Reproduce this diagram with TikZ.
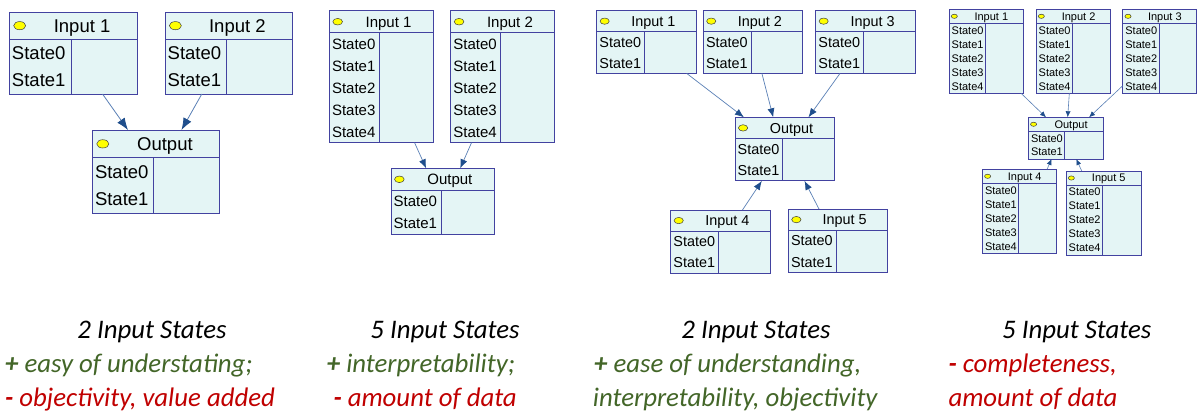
\documentclass[tikz,border=0pt]{standalone}
\usepackage{fontspec}
\setmainfont{Carlito}
\newfontfamily\boxfont{Liberation Sans}
\usetikzlibrary{arrows.meta,calc,shapes.geometric}
\definecolor{boxfill}{HTML}{E4F5F5}
\definecolor{boxborder}{HTML}{4242A0}
\definecolor{arrline}{HTML}{5A80B6}
\definecolor{arrhead}{HTML}{1F4E8C}
\definecolor{dotfill}{HTML}{FFFF00}
\definecolor{goodgreen}{HTML}{436628}
\definecolor{badred}{HTML}{C00000}
\newcommand{\bnfont}[1]{\boxfont\fontsize{#1}{#1}\selectfont}
\newcommand{\bnbox}[9]{%
  \pgfmathsetmacro{\bnTotH}{#5*(#8+1)}%
  \pgfmathsetmacro{\bnTitleY}{#3+#5*0.5+0.358*#9}%
  \pgfmathtruncatemacro{\bnN}{#8-1}%
  \node[bnframe, minimum width=#4pt, minimum height=\bnTotH pt, anchor=north west] (#1) at (#2,#3) {};
  \draw[bnline] (#2,#3+#5) -- (#2+#4,#3+#5);
  \draw[bnline] (#2+#6,#3+#5) -- (#2+#6,#3+\bnTotH);
  \node[bndot, minimum width={0.44*#5}, minimum height={0.3*#5}] (#1-dot) at (#2+0.38*#5,#3+0.5*#5) {};
  \node[anchor=base, inner sep=0pt, font=\bnfont{#9}] (#1-t) at (#2+0.57*#4,\bnTitleY) {#7};
  \foreach \i in {0,...,\bnN}{%
    \pgfmathsetmacro{\bnSY}{#3+#5*(\i+1.5)+0.358*#9}%
    \node[anchor=base west, inner sep=0pt, font=\bnfont{#9}] (#1-s\i) at (#2+2.5,\bnSY) {State\i};
  }%
}
\tikzset{
  bnframe/.style={rectangle, draw=boxborder, fill=boxfill, line width=0.9pt, inner sep=0pt, outer sep=0pt},
  bnline/.style={draw=boxborder, line width=0.8pt},
  bndot/.style={ellipse, draw=black!75, fill=dotfill, line width=0.5pt, inner sep=0pt},
  arrI/.style={draw=arrline, line width=0.8pt, -{Latex[color=arrhead,length=12pt,width=9pt]}},
  arrII/.style={draw=arrline, line width=0.7pt, -{Latex[color=arrhead,length=9pt,width=7pt]}},
  arrIII/.style={draw=arrline, line width=0.7pt, -{Latex[color=arrhead,length=9pt,width=7pt]}},
  arrIV/.style={draw=arrline, line width=0.6pt, -{Latex[color=arrhead,length=6pt,width=5pt]}},
  txt/.style={inner sep=0pt, font=\fontsize{26.8}{30}\selectfont\itshape},
}
\begin{document}
\begin{tikzpicture}[x=1pt,y=-1pt]
\useasboundingbox (0,0) rectangle (1197,416);
\fill[white] (0,0) rectangle (1197,416);
% ---------- Panel 1 ----------
\bnbox{p1i1}{9.3}{12}{127.7}{27.33}{61.7}{Input 1}{2}{18.5}
\bnbox{p1i2}{165}{12}{127}{27.33}{61}{Input 2}{2}{18.5}
\bnbox{p1o}{92.3}{130}{127.4}{27.7}{60.7}{Output}{2}{18.5}
\draw[arrI] ($(p1i1.south west)!0.73!(p1i1.south east)$) -- ($(p1o.north west)!0.28!(p1o.north east)$);
\draw[arrI] ($(p1i2.south west)!0.29!(p1i2.south east)$) -- ($(p1o.north west)!0.70!(p1o.north east)$);
% ---------- Panel 2 ----------
\bnbox{p2i1}{329.3}{10.7}{104}{22}{50}{Input 1}{5}{15}
\bnbox{p2i2}{450.7}{10.7}{104}{22}{49.3}{Input 2}{5}{15}
\bnbox{p2o}{391}{168.3}{103.3}{22}{50.7}{Output}{2}{15}
\draw[arrII] ($(p2i1.south west)!0.82!(p2i1.south east)$) -- ($(p2o.north west)!0.34!(p2o.north east)$);
\draw[arrII] ($(p2i2.south west)!0.20!(p2i2.south east)$) -- ($(p2o.north west)!0.67!(p2o.north east)$);
% ---------- Panel 3 ----------
\bnbox{p3i1}{596.7}{10.7}{99.3}{20.9}{47.3}{Input 1}{2}{14.4}
\bnbox{p3i2}{703.3}{10.7}{99.3}{20.9}{47.7}{Input 2}{2}{14.4}
\bnbox{p3i3}{815.7}{10.7}{100}{20.9}{47.6}{Input 3}{2}{14.4}
\bnbox{p3o}{735}{117.3}{99.3}{21.2}{47.7}{Output}{2}{14.4}
\bnbox{p3i4}{670.7}{210}{99.6}{21.1}{47.6}{Input 4}{2}{14.4}
\bnbox{p3i5}{788.3}{209}{99}{21.2}{47.7}{Input 5}{2}{14.4}
\draw[arrIII] ($(p3i1.south west)!0.906!(p3i1.south east)$) -- ($(p3o.north west)!0.09!(p3o.north east)$);
\draw[arrIII] ($(p3i2.south west)!0.59!(p3i2.south east)$) -- ($(p3o.north west)!0.385!(p3o.north east)$);
\draw[arrIII] ($(p3i3.south west)!0.243!(p3i3.south east)$) -- ($(p3o.north west)!0.74!(p3o.north east)$);
\draw[arrIII] ($(p3i4.north west)!0.72!(p3i4.north east)$) -- ($(p3o.south west)!0.27!(p3o.south east)$);
\draw[arrIII] ($(p3i5.north west)!0.31!(p3i5.north east)$) -- ($(p3o.south west)!0.70!(p3o.south east)$);
% ---------- Panel 4 ----------
\bnbox{p4i1}{949}{9.3}{74.3}{14}{36}{Input 1}{5}{11}
\bnbox{p4i2}{1036}{9.3}{74.7}{14}{36.3}{Input 2}{5}{11}
\bnbox{p4i3}{1122.7}{9.3}{74}{14}{36.3}{Input 3}{5}{11}
\bnbox{p4o}{1028.3}{117.3}{75}{13.9}{35.7}{Output}{2}{11}
\bnbox{p4i4}{982.3}{169.3}{74.4}{14}{36}{Input 4}{5}{11}
\bnbox{p4i5}{1066}{171}{75}{14}{36.3}{Input 5}{5}{11}
\draw[arrIV] ($(p4i1.south west)!0.97!(p4i1.south east)$) -- ($(p4o.north west)!0.236!(p4o.north east)$);
\draw[arrIV] ($(p4i2.south west)!0.446!(p4i2.south east)$) -- ($(p4o.north west)!0.525!(p4o.north east)$);
\draw[arrIV] ($(p4i3.north west)!0.91!(p4i3.south west)$) -- ($(p4o.north west)!0.81!(p4o.north east)$);
\draw[arrIV] ($(p4i4.north west)!0.87!(p4i4.north east)$) -- ($(p4o.south west)!0.31!(p4o.south east)$);
\draw[arrIV] ($(p4i5.north west)!0.21!(p4i5.north east)$) -- ($(p4o.south west)!0.64!(p4o.south east)$);
% ---------- Captions ----------
\node[txt, anchor=base] (c1h) at (152,338) {2 Input States};
\node[txt, anchor=base west, text=goodgreen] (c1a) at (5,372.5) {\textbf{+} easy of understating;};
\node[txt, anchor=base west, text=badred] (c1b) at (5,406.5) {\textbf{-} objectivity, value added};
\node[txt, anchor=base] (c2h) at (445,338) {5 Input States};
\node[txt, anchor=base west, text=goodgreen] (c2a) at (326.7,372.5) {\textbf{+} interpretability;};
\node[txt, anchor=base west, text=badred] (c2b) at (333.3,406.5) {\textbf{-} amount of data};
\node[txt, anchor=base] (c3h) at (756,338) {2 Input States};
\node[txt, anchor=base west, text=goodgreen] (c3a) at (594,372.5) {\textbf{+} ease of understanding,};
\node[txt, anchor=base west, text=goodgreen] (c3b) at (592.7,406.5) {interpretability, objectivity};
\node[txt, anchor=base] (c4h) at (1076.7,338) {5 Input States};
\node[txt, anchor=base west, text=badred] (c4a) at (948.3,372.5) {\textbf{-} completeness,};
\node[txt, anchor=base west, text=badred] (c4b) at (948.3,406.5) {amount of data};
\end{tikzpicture}
\end{document}
